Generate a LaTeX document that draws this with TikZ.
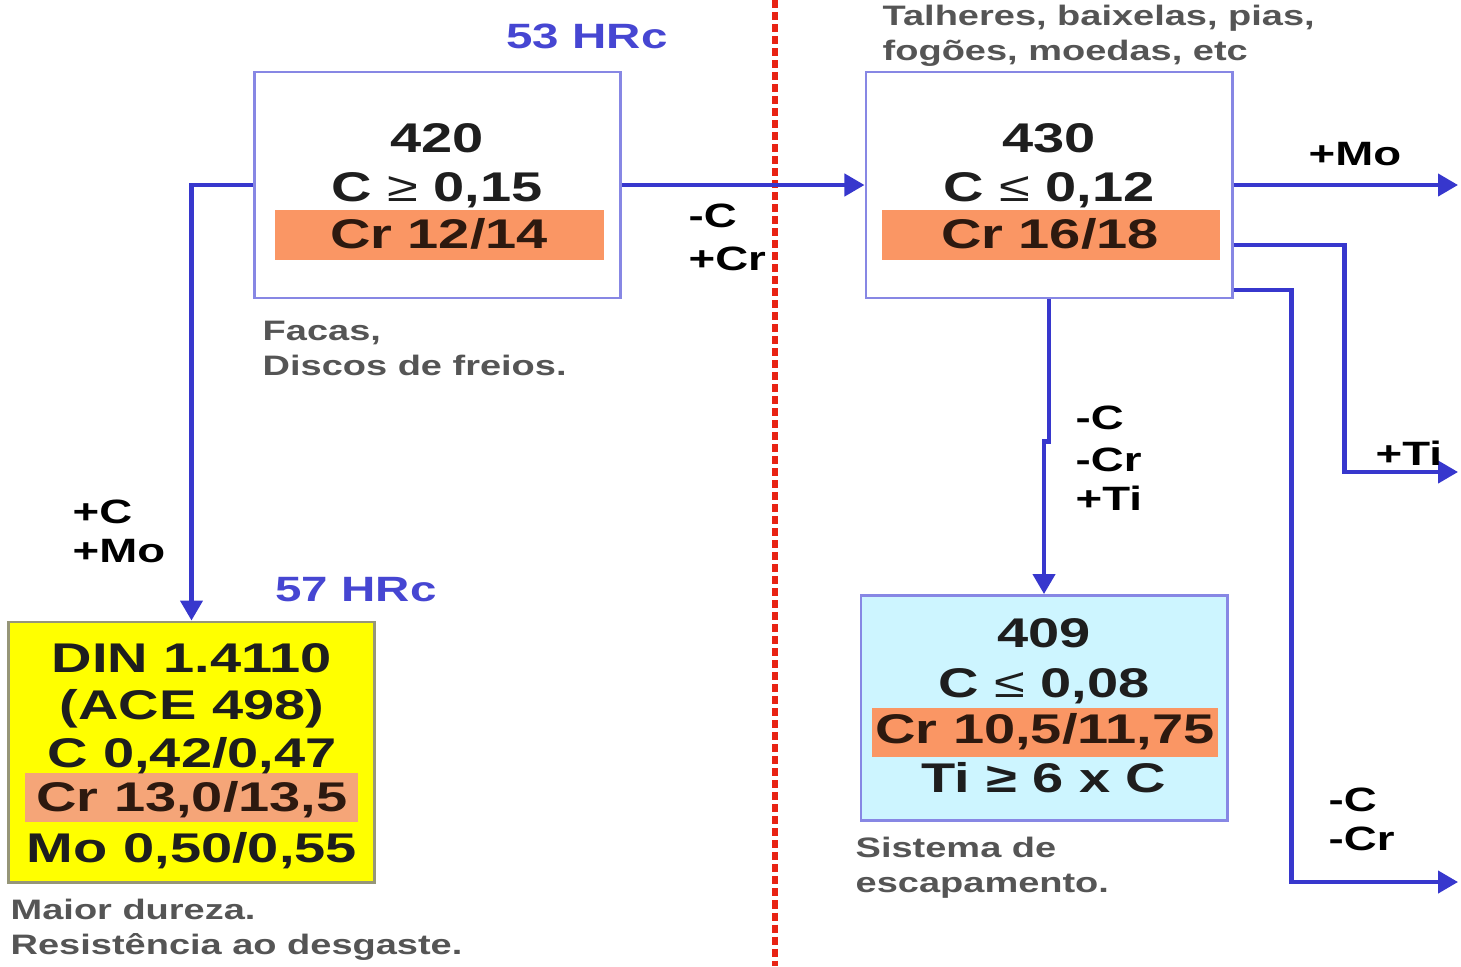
\documentclass[tikz,border=0pt]{standalone}
\usepackage{fontspec}
\setmainfont{Liberation Sans}[FakeStretch=1.35]
\usetikzlibrary{positioning}
\usetikzlibrary{arrows.meta}
\usetikzlibrary{calc}

\definecolor{flowblue}{RGB}{55,55,205}
\definecolor{boxline}{RGB}{135,135,228}
\definecolor{dinborder}{RGB}{150,150,120}
\definecolor{bandorange}{RGB}{250,150,100}
\definecolor{dinband}{RGB}{245,165,120}
\definecolor{dinyellow}{RGB}{255,255,0}
\definecolor{cyanfill}{RGB}{205,245,255}
\definecolor{hrcblue}{RGB}{70,70,210}
\definecolor{divred}{RGB}{232,35,20}
\definecolor{notegrey}{RGB}{85,85,85}
\definecolor{rowtext}{RGB}{30,30,30}
\definecolor{bandtext}{RGB}{45,25,15}

\begin{document}
\begin{tikzpicture}[x=0.01cm, y=-0.01cm,
    steel/.style={draw=boxline, line width=0.8pt, minimum width=3.66cm, minimum height=2.26cm, inner sep=0pt},
    crband/.style={fill=bandorange, minimum width=3.3cm, minimum height=0.5cm, inner sep=0pt},
    row/.style={anchor=base, inner sep=0pt, font=\fontsize{11.8}{14}\selectfont\bfseries, text=rowtext},
    lbl/.style={anchor=base west, inner sep=0pt, align=left, font=\fontsize{9.6}{12}\selectfont\bfseries},
    note/.style={anchor=base west, inner sep=0pt, align=left, font=\fontsize{8}{9.7}\selectfont\bfseries, text=notegrey},
    hrc/.style={anchor=base, inner sep=0pt, font=\fontsize{10}{12}\selectfont\bfseries, text=hrcblue},
    flow/.style={draw=flowblue, line width=1.2pt},
    flowarr/.style={flow, -{Triangle[length=0.2cm, width=0.22cm]}},
    divider/.style={draw=divred, line width=1.7pt, dash pattern=on 0.08cm off 0.04cm}
]
    \useasboundingbox (0,0) rectangle (1461,966);

    % dividing line
    \draw[divider] (775,0) -- (775,966);

    % steel boxes
    \node[steel] (s420) at (437.5,185) {};
    \node[steel] (s430) at (1049,185) {};
    \node[steel, fill=cyanfill, minimum height=2.25cm] (s409) at (1044,708) {};
    \node[steel, draw=dinborder, fill=dinyellow, minimum height=2.6cm] (din) at (191.5,752) {};

    \node[crband, minimum width=3.29cm] (band420) at (439.5,235) {};
    \node[crband, minimum width=3.38cm] (band430) at (1051,235) {};
    \node[crband, minimum width=3.46cm, minimum height=0.49cm] (band409) at (1045,732) {};
    \node[crband, fill=dinband, minimum width=3.33cm, minimum height=0.49cm] (banddin) at (191.5,797) {};

    % 420
    \node[row] (n420) at (437,152) {420};
    \node[row] (c420) at (437,201) {C {\mdseries ≥} 0,15};
    \node[row, text=bandtext] (cr420) at (439,248) {Cr 12/14};

    % 430
    \node[row] (n430) at (1049,152) {430};
    \node[row] (c430) at (1049,201) {C {\mdseries ≤} 0,12};
    \node[row, text=bandtext] (cr430) at (1050,248) {Cr 16/18};

    % 409
    \node[row] (n409) at (1044,647) {409};
    \node[row] (c409) at (1044,697) {C {\mdseries ≤} 0,08};
    \node[row, text=bandtext] (cr409) at (1045,743) {Cr 10,5/11,75};
    \node[row] (ti409) at (1044,792) {Ti ≥ 6 x C};

    % DIN 1.4110
    \node[row] (ndin) at (192,672) {DIN 1.4110};
    \node[row] (acedin) at (192,719) {(ACE 498)};
    \node[row] (cdin) at (192,767) {C 0,42/0,47};
    \node[row, text=bandtext] (crdin) at (192,811) {Cr 13,0/13,5};
    \node[row] (modin) at (192,862) {Mo 0,50/0,55};

    % hardness
    \node[hrc] (hrc420) at (587,48) {53 HRc};
    \node[hrc] (hrcdin) at (356,601) {57 HRc};

    % uses (y = baseline of the last line)
    \node[note] (use430) at (882,60) {Talheres, baixelas, pias,\\fogões, moedas, etc};
    \node[note] (use420) at (262,375) {Facas,\\Discos de freios.};
    \node[note] (usedin) at (10,954) {Maior dureza.\\Resistência ao desgaste.};
    \node[note] (use409) at (855,892) {Sistema de\\escapamento.};

    % free ends
    \coordinate (outmo) at (1458,185);
    \coordinate (outti) at (1458,472);
    \coordinate (outccr) at (1458,882);

    % connectors
    \draw[flowarr] (s420.east) -- (s430.west);
    \draw[flowarr] (s420.west) -| (din.north);
    \draw[flowarr] (s430.east) -- (outmo);
    \draw[flowarr] ([yshift=-0.6cm]s430.east) -- ++(111,0) |- (outti);
    \draw[flowarr] ([yshift=-1.05cm]s430.east) -- ++(58,0) |- (outccr);
    \draw[flowarr] (s430.south) -- ++(0,142) -| (s409.north);

    % alloy changes
    \node[lbl] (l420) at (688,270) {-C\\+Cr};
    \node[lbl] (ldin) at (72,562) {+C\\[-1pt]+Mo};
    \node[lbl] (lmo) at (1308,165) {+Mo};
    \node[lbl] (lti) at (1375,465) {+Ti};
    \node[lbl] (l409) at (1075,510) {-C\\-Cr\\[-1pt]+Ti};
    \node[lbl] (lccr) at (1328,850) {-C\\[-1pt]-Cr};
\end{tikzpicture}
\end{document}
